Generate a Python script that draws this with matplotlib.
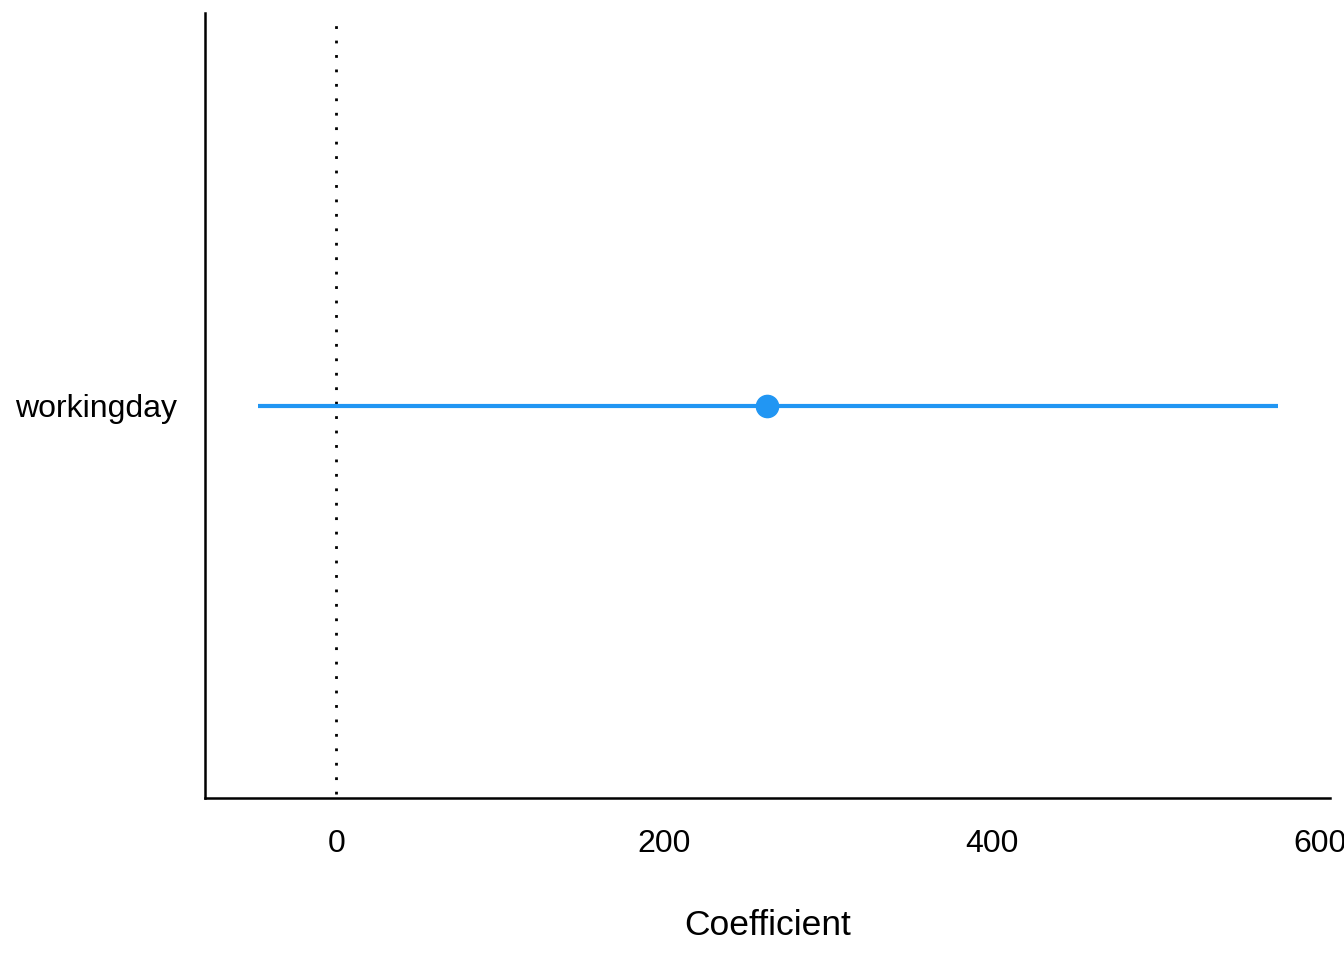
import matplotlib
matplotlib.use("Agg")
import matplotlib.pyplot as plt

# dati del coefficiente
terms = ["workingday"]
estimate = [263.0]
conf_low = [-47.5]
conf_high = [574.5]

plt.rcParams["font.family"] = ["Liberation Sans", "DejaVu Sans"]

fig = plt.figure(figsize=(13.44, 9.6), dpi=100)
ax = fig.add_axes([0.1525, 0.16875, 0.8371, 0.8177])

y = list(range(len(terms)))
blue = "#2196F3"

# linea di riferimento a zero
ax.plot([0, 0], [-0.495, 0.49], color="black", lw=2.0,
        linestyle=(0, (1, 4.2)), zorder=1)

for yi, est, lo, hi in zip(y, estimate, conf_low, conf_high):
    ax.plot([lo, hi], [yi, yi], color=blue, lw=3.0, solid_capstyle="butt", zorder=2)
    ax.plot(est, yi, "o", color=blue, markersize=16, zorder=3)

ax.set_xlim(-80, 606)
ax.set_ylim(-0.5, 0.5)
ax.set_yticks(y)
ax.set_yticklabels(terms)
ax.set_xticks([0, 200, 400, 600])

ax.spines["top"].set_visible(False)
ax.spines["right"].set_visible(False)
ax.spines["left"].set_linewidth(1.8)
ax.spines["bottom"].set_linewidth(1.8)
ax.tick_params(axis="both", length=0, labelsize=23)
ax.tick_params(axis="x", pad=22)
ax.tick_params(axis="y", pad=20)

ax.set_xlabel("Coefficient", fontsize=25.5, labelpad=36)

fig.savefig("out.png", dpi=100)
